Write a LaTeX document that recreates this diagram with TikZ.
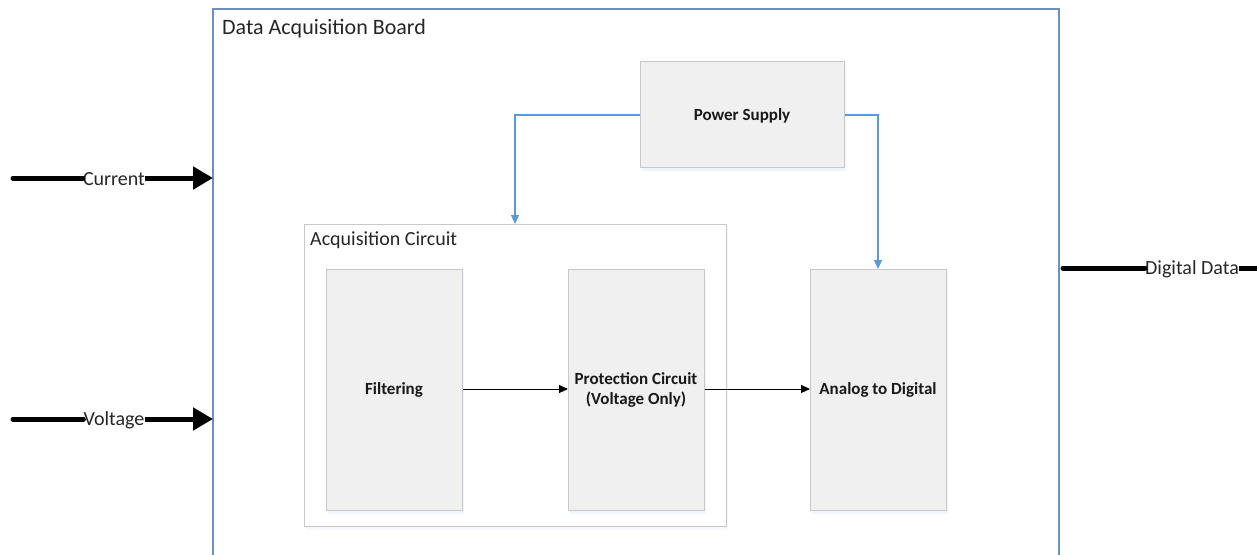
\documentclass[tikz,border=0pt]{standalone}
\usepackage{fontspec}
\setmainfont{Carlito}
\usetikzlibrary{arrows.meta,shadows}
\definecolor{boxfill}{HTML}{F0F0F0}
\definecolor{boxline}{HTML}{C8C8C8}
\definecolor{boardline}{HTML}{6F8FBF}
\definecolor{feed}{HTML}{5B9BD5}
\begin{document}
\begin{tikzpicture}[x=1pt,y=-1pt,
  block/.style={draw=boxline,fill=boxfill,line width=1.2pt,anchor=north west,inner sep=0pt,
    drop shadow={shadow xshift=1pt,shadow yshift=-3pt,fill=feed!15,opacity=0.6}},
  blocktext/.style={font=\fontsize{17}{20}\selectfont\bfseries,align=center,text=black!90},
  group/.style={draw=boxline,fill=white,line width=1.2pt,anchor=north west,inner sep=0pt,
    drop shadow={shadow xshift=1pt,shadow yshift=-3pt,fill=feed!12,opacity=0.5}},
  title/.style={anchor=north west,font=\fontsize{22}{24}\selectfont,text=black!85,inner sep=0pt},
  power/.style={draw=feed,line width=1.2pt,-{Triangle[length=9pt,width=8pt]}},
  signal/.style={draw=black,line width=1pt,-{Triangle[length=9pt,width=8pt]}},
  bigio/.style={draw=black,line width=5pt,line cap=round},
  iolabel/.style={fill=white,font=\fontsize{20}{22}\selectfont,text=black!85,inner sep=0pt}]
\useasboundingbox (0,0) rectangle (1257,554);

% board outline (open at the bottom)
\coordinate (bl) at (213,560);
\coordinate (br) at (1059,560);
\draw[boardline,line width=1.2pt] (bl) -- (213,9) -- (1059,9) -- (br);
\node[title] (boardtitle) at (222,19) {Data Acquisition Board};

% power supply
\node[block,minimum width=204pt,minimum height=106pt] (ps) at (640,61) {};
\node[blocktext] (pslabel) at (742,116) {Power Supply};

% acquisition circuit group
\node[group,minimum width=422pt,minimum height=302pt] (acq) at (304,224) {};
\node[title,font=\fontsize{20}{22}\selectfont] (acqtitle) at (310,231) {Acquisition Circuit};

% processing stages
\node[block,minimum width=136pt,minimum height=241pt] (filt) at (326,269) {};
\node[blocktext] at (394,390) {Filtering};
\node[block,minimum width=136pt,minimum height=241pt] (prot) at (568,269) {};
\node[blocktext] at (636,390) {Protection Circuit\\(Voltage Only)};
\node[block,minimum width=136pt,minimum height=241pt] (adc) at (810,269) {};
\node[blocktext] at (878,390) {Analog to Digital};

% signal path
\draw[signal] (filt.east |- 0,389) -- (prot.west |- 0,389);
\draw[signal] (prot.east |- 0,389) -- (adc.west |- 0,389);

% power feeds
\draw[power] (ps.west |- 0,115) -| (515,0 |- acq.north);
\draw[power] (ps.east |- 0,115) -| (878,0 |- adc.north);

% board inputs
\coordinate (cin) at (13,178);
\node[iolabel] (cur) at (114,179) {Current};
\draw[bigio] (cin) -- (cur.west |- cin);
\draw[bigio,line cap=butt,-{Triangle[length=20pt,width=22pt]}] (cur.east |- cin) -- (213,178);

\coordinate (vin) at (13,419);
\node[iolabel] (vol) at (114,420) {Voltage};
\draw[bigio] (vin) -- (vol.west |- vin);
\draw[bigio,line cap=butt,-{Triangle[length=20pt,width=22pt]}] (vol.east |- vin) -- (213,419);

% board output
\coordinate (dstart) at (1063,268);
\coordinate (dend) at (1262,268);
\node[iolabel] (dig) at (1192,269) {Digital Data};
\draw[bigio] (dstart) -- (dig.west |- dstart);
\draw[bigio,line cap=butt] (dig.east |- dstart) -- (dend);
\end{tikzpicture}
\end{document}
